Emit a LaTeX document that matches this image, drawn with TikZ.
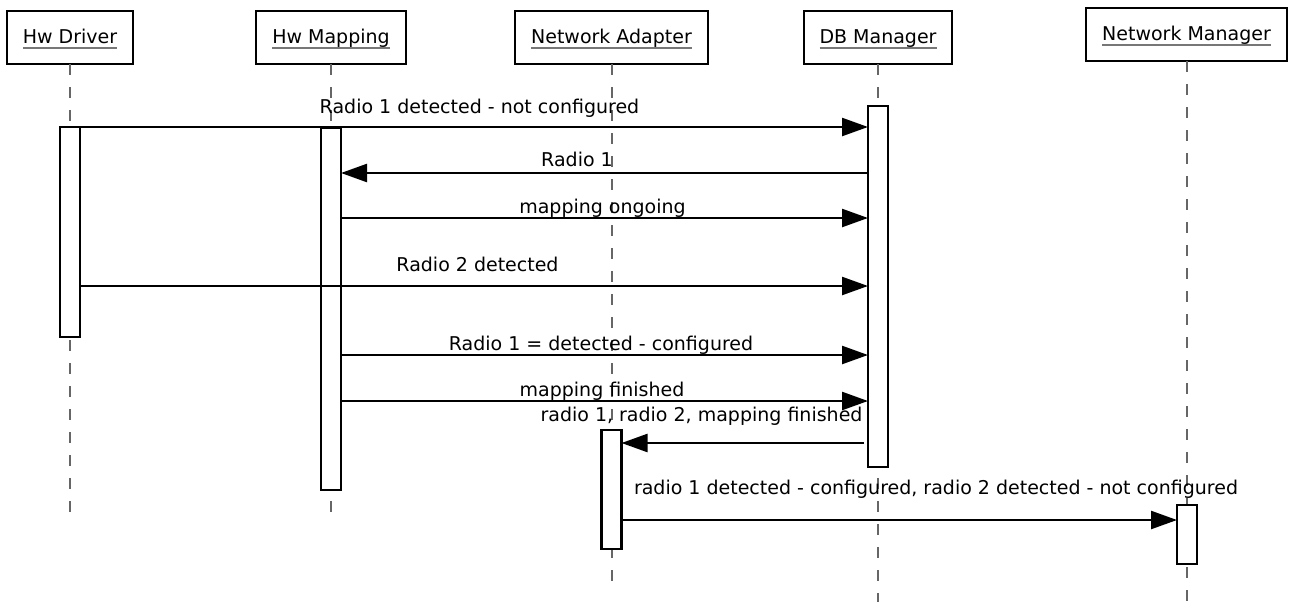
\documentclass[tikz,border=0pt]{standalone}
\usepackage{fontspec}
\setmainfont{DejaVu Sans}
\usetikzlibrary{arrows.meta}
\definecolor{lifegray}{HTML}{666666}
\definecolor{ulgray}{HTML}{777777}
% object name, underlined with a grey rule
\newcommand\objname[1]{\setbox0=\hbox{#1}\rlap{\textcolor{ulgray}{\rule[-5.5pt]{\wd0}{2pt}}}\box0}
\begin{document}
\begin{tikzpicture}[x=1pt,y=-1pt,
  every node/.style={font=\fontsize{19pt}{22pt}\selectfont},
  objbox/.style={draw, line width=2.6pt, fill=white, inner sep=0pt, outer sep=0pt,
    minimum height=53pt, text height=17pt, text depth=4pt},
  lifeline/.style={draw=lifegray, line width=2pt, dash pattern=on 11pt off 12pt},
  actbar/.style={draw, line width=2.6pt, fill=white, minimum width=20pt,
    inner sep=0pt, outer sep=0pt},
  msg/.style={draw, line width=2.4pt, -{Triangle[length=26pt,width=18pt]}},
  msglabel/.style={anchor=base, inner sep=0pt}]

\useasboundingbox (0,0) rectangle (1289,602);

% objects
\node[objbox, minimum width=126pt] (drv) at (70,37.5)   {\objname{Hw Driver}};
\node[objbox, minimum width=150pt] (map) at (331,37.5)  {\objname{Hw Mapping}};
\node[objbox, minimum width=193pt] (na)  at (611.5,37.5){\objname{Network Adapter}};
\node[objbox, minimum width=148pt] (db)  at (878,37.5)  {\objname{DB Manager}};
\node[objbox, minimum width=201pt] (nm)  at (1186.5,34.5){\objname{Network Manager}};

% lifeline ends
\coordinate (drvend) at (70,517);
\coordinate (mapend) at (331,517);
\coordinate (naend)  at (611.5,587);
\coordinate (dbend)  at (878,602);
\coordinate (nmend)  at (1186.5,602);

\draw[lifeline] (drv.south) -- (drvend);
\draw[lifeline] (map.south) -- (mapend);
\draw[lifeline] (na.south)  -- (naend);
\draw[lifeline] (db.south)  -- (dbend);
\draw[lifeline] (nm.south)  -- (nmend);

% activation bars
\node[actbar, minimum height=210pt] (drvbar) at (70,232)     {};
\node[actbar, minimum height=362pt] (mapbar) at (331,309)    {};
\node[actbar, minimum height=361pt] (dbbar)  at (878,286.5)  {};
\node[actbar, minimum height=119pt] (nabar)  at (611.5,489.5){};
\node[actbar, minimum height=59pt]  (nmbar)  at (1187,534.5) {};

% message rows
\coordinate (r1) at (0,127);
\coordinate (r2) at (0,173);
\coordinate (r3) at (0,218);
\coordinate (r4) at (0,286);
\coordinate (r5) at (0,355);
\coordinate (r6) at (0,401);
\coordinate (r7) at (0,443);
\coordinate (r8) at (0,520);

% messages
\draw[msg] (drvbar.east |- r1) -- (dbbar.west |- r1);
\draw[msg] (dbbar.west |- r2) -- (mapbar.east |- r2);
\draw[msg] (mapbar.east |- r3) -- (dbbar.west |- r3);
\draw[msg] (drvbar.east |- r4) -- (dbbar.west |- r4);
\draw[msg] (mapbar.east |- r5) -- (dbbar.west |- r5);
\draw[msg] (mapbar.east |- r6) -- (dbbar.west |- r6);
\draw[msg, shorten <=4pt] (dbbar.west |- r7) -- (nabar.east |- r7);
\draw[msg] (nabar.east |- r8) -- (nmbar.west |- r8);

% message labels
\node[msglabel] (l1) at (479.5,113) {Radio 1 detected - not configured};
\node[msglabel] (l2) at (577,166)   {Radio 1};
\node[msglabel] (l3) at (602.5,213) {mapping ongoing};
\node[msglabel] (l4) at (477.5,271) {Radio 2 detected};
\node[msglabel] (l5) at (601,350)   {Radio 1 = detected - configured};
\node[msglabel] (l6) at (602,396)   {mapping finished};
\node[msglabel] (l7) at (701.5,421) {radio 1, radio 2, mapping finished};
\node[msglabel] (l8) at (936,494)   {radio 1 detected - configured, radio 2 detected - not configured};
\end{tikzpicture}
\end{document}
